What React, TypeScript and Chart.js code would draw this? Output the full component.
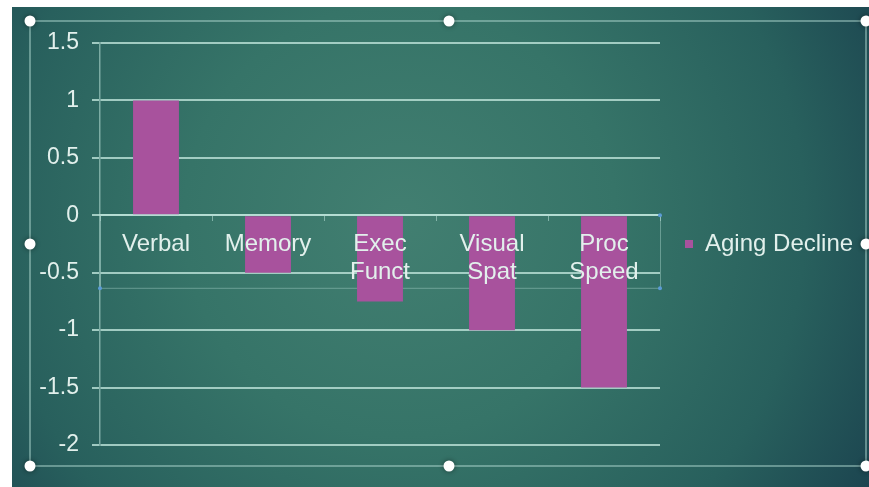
import { useEffect, useRef } from "react";
import { Chart, registerables } from "chart.js";

Chart.register(...registerables);

// Cognitive domains and their change with age
const categories: (string | string[])[] = [
  "Verbal",
  "Memory",
  ["Exec", "Funct"],
  ["Visual", "Spat"],
  ["Proc", "Speed"],
];
const seriesName = "Aging Decline";
const agingDecline = [1, -0.5, -0.75, -1, -1.5];

// Value axis range
const yMin = -2;
const yMax = 1.5;
const yStep = 0.5;

const W = 869;
const H = 487;
const FONT = "'Liberation Sans', Arial, sans-serif";
const TEXT = "#e2f0ec";
const GRID = "rgba(190, 228, 218, 0.8)";
const BAR = "#a8529d";
const LEGEND_W = 209;
const LEGEND_PAD = 25;
const LEGEND_FONT = 24;

// Slide backdrop: white margin strip plus a teal radial wash
const slideBackground = {
  id: "slideBackground",
  beforeDraw(chart: Chart) {
    const { ctx, width, height } = chart;
    ctx.save();
    ctx.fillStyle = "#ffffff";
    ctx.fillRect(0, 0, width, height);
    const g = ctx.createRadialGradient(400, 220, 0, 400, 220, 540);
    g.addColorStop(0, "#427f71");
    g.addColorStop(0.4, "#367468");
    g.addColorStop(0.75, "#28605d");
    g.addColorStop(1, "#1c4550");
    ctx.fillStyle = g;
    ctx.fillRect(12, 7, width - 12, height - 7);
    ctx.restore();
  },
};

// Selection frame around the chart object and the axis selection box
const selectionFrame = {
  id: "selectionFrame",
  beforeDatasetsDraw(chart: Chart) {
    const { ctx, chartArea } = chart;
    const y = chart.scales.y;
    const top = y.getPixelForValue(0);
    const bottom = top + 73;
    ctx.save();
    ctx.strokeStyle = "rgba(170, 212, 204, 0.45)";
    ctx.lineWidth = 1;
    ctx.strokeRect(chartArea.left + 0.5, top, chartArea.right - chartArea.left, bottom - top);
    ctx.fillStyle = "#5b9bd5";
    for (const [px, py] of [
      [chartArea.right, top],
      [chartArea.left, bottom],
      [chartArea.right, bottom],
    ]) {
      ctx.beginPath();
      ctx.arc(px, py, 2, 0, Math.PI * 2);
      ctx.fill();
    }
    ctx.restore();
  },
  afterDraw(chart: Chart) {
    const { ctx } = chart;
    const x0 = 30;
    const x1 = 866;
    const y0 = 21;
    const y1 = 466;
    ctx.save();
    ctx.strokeStyle = "rgba(175, 215, 208, 0.65)";
    ctx.lineWidth = 1.5;
    ctx.strokeRect(x0, y0, x1 - x0, y1 - y0);
    const xm = 449;
    const ym = 244;
    const handles = [
      [x0, y0], [xm, y0], [x1, y0],
      [x0, ym], [x1, ym],
      [x0, y1], [xm, y1], [x1, y1],
    ];
    ctx.shadowColor = "rgba(0, 0, 0, 0.45)";
    ctx.shadowBlur = 5;
    ctx.fillStyle = "#ffffff";
    for (const [hx, hy] of handles) {
      ctx.beginPath();
      ctx.arc(hx, hy, 5.5, 0, Math.PI * 2);
      ctx.fill();
    }
    ctx.restore();
  },
};

export default function App() {
  const ref = useRef<HTMLCanvasElement>(null);

  useEffect(() => {
    const canvas = ref.current;
    if (!canvas) return;

    // Reserve a fixed-width legend column so the plot ends at the same place
    const mctx = canvas.getContext("2d")!;
    mctx.font = `${LEGEND_FONT}px ${FONT}`;
    const textW = mctx.measureText(seriesName).width;
    const legendNatural = LEGEND_PAD + 8 + LEGEND_FONT / 2 + textW + 10;
    const rightPad = Math.max(0, LEGEND_W - legendNatural);

    const chart = new Chart(canvas, {
      type: "bar",
      data: {
        labels: categories,
        datasets: [
          {
            label: seriesName,
            data: agingDecline,
            backgroundColor: BAR,
            borderWidth: 0,
            categoryPercentage: 1,
            barPercentage: 0.41,
          },
        ],
      },
      options: {
        responsive: false,
        animation: false,
        devicePixelRatio: 1,
        layout: { padding: { left: 12, top: 43, right: rightPad, bottom: 42 } },
        plugins: {
          legend: {
            position: "right",
            maxWidth: LEGEND_W,
            labels: {
              boxWidth: 8,
              boxHeight: 8,
              padding: LEGEND_PAD,
              color: TEXT,
              font: { family: FONT, size: LEGEND_FONT },
            },
          },
          tooltip: { enabled: false },
        },
        scales: {
          x: {
            position: { y: 0 },
            offset: true,
            grid: {
              offset: true,
              drawOnChartArea: false,
              drawTicks: true,
              tickLength: 5,
              color: "rgba(190, 228, 218, 0.55)",
              lineWidth: 1,
            },
            border: { display: true, color: GRID, width: 2 },
            ticks: {
              z: 1,
              padding: 10,
              color: TEXT,
              maxRotation: 0,
              autoSkip: false,
              font: { family: FONT, size: 24, lineHeight: 1.17 },
            },
          },
          y: {
            min: yMin,
            max: yMax,
            afterFit: (scale: any) => {
              scale.width = 88;
            },
            grid: {
              color: GRID,
              lineWidth: 2,
              drawTicks: true,
              tickLength: 8,
            },
            border: { display: true, color: "rgba(190, 228, 218, 0.55)", width: 1.5 },
            ticks: {
              stepSize: yStep,
              padding: 13,
              color: TEXT,
              font: { family: FONT, size: 23 },
              callback: (v: any) => String(v),
            },
          },
        },
      },
      plugins: [slideBackground, selectionFrame],
    });

    return () => chart.destroy();
  }, []);

  return (
    <div style={{ position: "fixed", left: 0, top: 0, width: W, height: H }}>
      <canvas ref={ref} width={W} height={H} style={{ display: "block" }} />
    </div>
  );
}
